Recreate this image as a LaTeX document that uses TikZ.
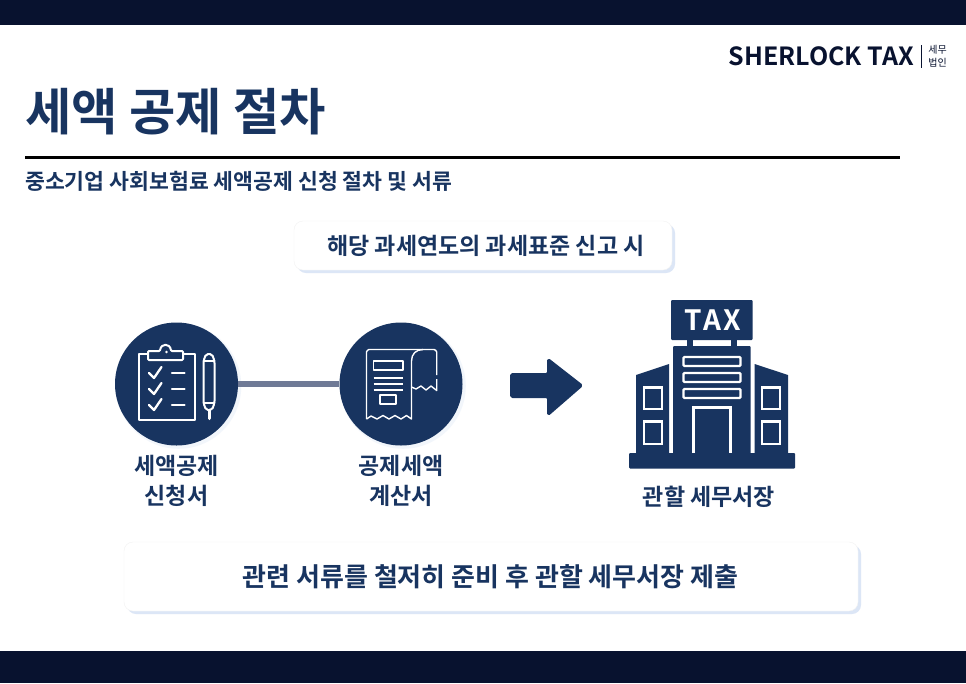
\documentclass[tikz,border=0pt]{standalone}
\usepackage{fontspec}
\setmainfont{Noto Sans CJK KR}[BoldFont={* Bold}]
\usetikzlibrary{
    arrows.meta,
    positioning,
    calc,
    shadows,
}
\definecolor{navy}{HTML}{183460}
\definecolor{barnavy}{HTML}{08122F}
\definecolor{linkgray}{HTML}{6F7A96}
\definecolor{shadowblue}{HTML}{DCE6F6}

\begin{document}
\begin{tikzpicture}[
    x=1pt, y=-1pt,
    node distance= 1pt,
    bar/.style={fill=barnavy, draw=none},
    textbox/.style={draw=black!5, fill=white, rounded corners=9pt, text=navy, font=\bfseries, align=center,
        drop shadow={shadow xshift=3pt, shadow yshift=-3pt, fill=shadowblue, opacity=1}},
    iconcircle/.style={circle, fill=navy, minimum size=123pt, inner sep=0pt,
        drop shadow={shadow xshift=2pt, shadow yshift=-2pt, shadow scale=1.02, fill=shadowblue, opacity=0.35}},
    caption/.style={text=navy, font=\fontsize{23}{30}\selectfont\bfseries, align=center, inner sep=0pt},
    iconline/.style={draw=white, line width=2pt, line join=round, line cap=round},
    thinline/.style={draw=white, line width=1.4pt, line join=round},
    solid navy/.style={fill=navy, draw=navy, line width=1pt, line join=round},
    window/.style={draw=white, line width=2.4pt, fill=navy},
]
\useasboundingbox (0,0) rectangle (966,683);
\fill[white] (0,0) rectangle (966,683);

% bars
\fill[bar] (0,0) rectangle (966,25);
\fill[bar] (0,651) rectangle (966,683);

% logo
\node[text=barnavy, font=\fontsize{25}{28}\selectfont\bfseries, inner sep=0pt, anchor=east] (logo) at (914,56) {SHERLOCK TAX};
\node[text=barnavy, font=\fontsize{10}{13}\selectfont, align=center, inner sep=0pt] (logosub) at (937.5,56.5) {세무\\법인};
\draw[barnavy, line width=0.8pt] (921,45) -- (921,68);

% heading
\node[text=navy, font=\fontsize{50.4}{56}\selectfont\bfseries, inner sep=0pt, anchor=west] (title) at (25,112) {세액 공제 절차};
\draw[black, line width=3pt] (25,157) -- (900,157);
\node[text=navy, font=\fontsize{21.6}{24}\selectfont\bfseries, inner sep=0pt, anchor=west] (subtitle) at (25,181.5) {중소기업 사회보험료 세액공제 신청 절차 및 서류};

% boxes
\node[textbox, minimum width=378pt, minimum height=49pt, font=\fontsize{23}{26}\selectfont\bfseries] (when) at (483,245.5) {\hspace{6pt}해당 과세연도의 과세표준 신고 시};
\node[textbox, minimum width=734pt, minimum height=69pt, font=\fontsize{26}{30}\selectfont\bfseries] (note) at (491,576.5) {\raisebox{2pt}{관련 서류를 철저히 준비 후 관할 세무서장 제출}\hspace{1pt}};

% circles
\node[iconcircle] (form) at (176.5,384) {};
\node[iconcircle] (receipt) at (401,384) {};
\draw[linkgray, line width=6pt] (form) -- (receipt);
\node[caption] (formtext) [below=9pt of form] {세액공제\\신청서};
\node[caption] (receipttext) [below=9pt of receipt] {공제세액\\계산서};

% clipboard
\draw[iconline] (148,354) -- (139,354) -- (139,420) -- (195,420) -- (195,354) -- (183,354);
\draw[iconline, fill=navy, rounded corners=1pt] (148,360) -- (148,351) -- (160,351) .. controls (161,343) and (170,343) .. (171,351) -- (183,351) -- (183,360) -- cycle;
\fill[white] (166.5,352) circle (1.3pt);
\foreach \y in {373,389,405} {
    \draw[iconline, line width=2.3pt] (149,\y) -- (154,\y+5) -- (161.5,\y-6);
    \draw[iconline, line width=2.3pt] (172,\y) -- (184.5,\y);
}
% pen
\draw[iconline, rounded corners=2pt] (203.5,403) -- (203.5,361) -- (206,354) -- (212,354) -- (214.5,361) -- (214.5,403) -- (212,410) -- (206,410) -- cycle;
\draw[iconline] (203.5,361) -- (214.5,361);
\draw[iconline] (203.5,403) -- (214.5,403);
\draw[iconline, line width=3pt] (209,410) -- (209,418.5);

% receipt
\draw[thinline, rounded corners=3pt] (366.5,419) -- (366.5,355) .. controls (366.5,351) and (368,349.5) .. (372,349.5) -- (431,349.5) .. controls (435,349.5) and (436.7,351) .. (436.7,355) -- (436.7,375);
\draw[thinline] (366.5,419) -- (371,416) -- (377,419) -- (383,415.5) -- (389,419) -- (395,415.5) -- (401,419) -- (406.5,415.5) -- (411.5,419) -- (411.5,361);
\draw[thinline] (411.5,361) .. controls (411.5,354) and (416,349.5) .. (423,349.5);
\draw[thinline] (411.5,387) -- (416,389) -- (421,386) -- (426,390) -- (431,386) -- (436.7,390.5) -- (436.7,379);
\draw[thinline] (373.5,361) rectangle (403,370);
\foreach \y in {378,384,390} {
    \draw[thinline] (373.5,\y) -- (403,\y);
}
\draw[thinline] (380,395) rectangle (396,404);

% arrow
\draw[solid navy, line width=2pt, rounded corners=1.5pt] (511,374) -- (548,374) -- (548,359) -- (582,385.5) -- (548,415) -- (548,397) -- (511,397) -- cycle;

% building
\fill[navy, rounded corners=1pt] (671,300) rectangle (752.5,340);
\node[text=white, font=\fontsize{28}{30}\selectfont\bfseries\addfontfeature{LetterSpace=8}, inner sep=0pt] (taxsign) at (713,320) {TAX};
\fill[navy] (687,340) rectangle (693,346);
\fill[navy] (731,340) rectangle (737,346);
\fill[navy, rounded corners=1pt] (673,346) rectangle (750.5,454);
\fill[navy] (636,375) -- (669,364) -- (669,454) -- (636,454) -- cycle;
\fill[navy] (754.5,364) -- (788,375) -- (788,454) -- (754.5,454) -- cycle;
\fill[navy, rounded corners=1pt] (629,453) rectangle (795,468.5);
\draw[window, rounded corners=1pt] (683.5,357) rectangle (740.5,366);
\draw[window, rounded corners=1pt] (683.5,373) rectangle (740.5,382);
\draw[window, rounded corners=1pt] (683.5,389) rectangle (740.5,398);
\draw[window] (693.5,453) -- (693.5,407.5) -- (730.5,407.5) -- (730.5,453);
\foreach \x in {644,762} {
    \draw[window] (\x,387.5) rectangle (\x+18,409);
    \draw[window] (\x,421.5) rectangle (\x+18,444);
}
\node[caption] (officetext) at (709,497) {관할 세무서장};

\end{tikzpicture}
\end{document}
